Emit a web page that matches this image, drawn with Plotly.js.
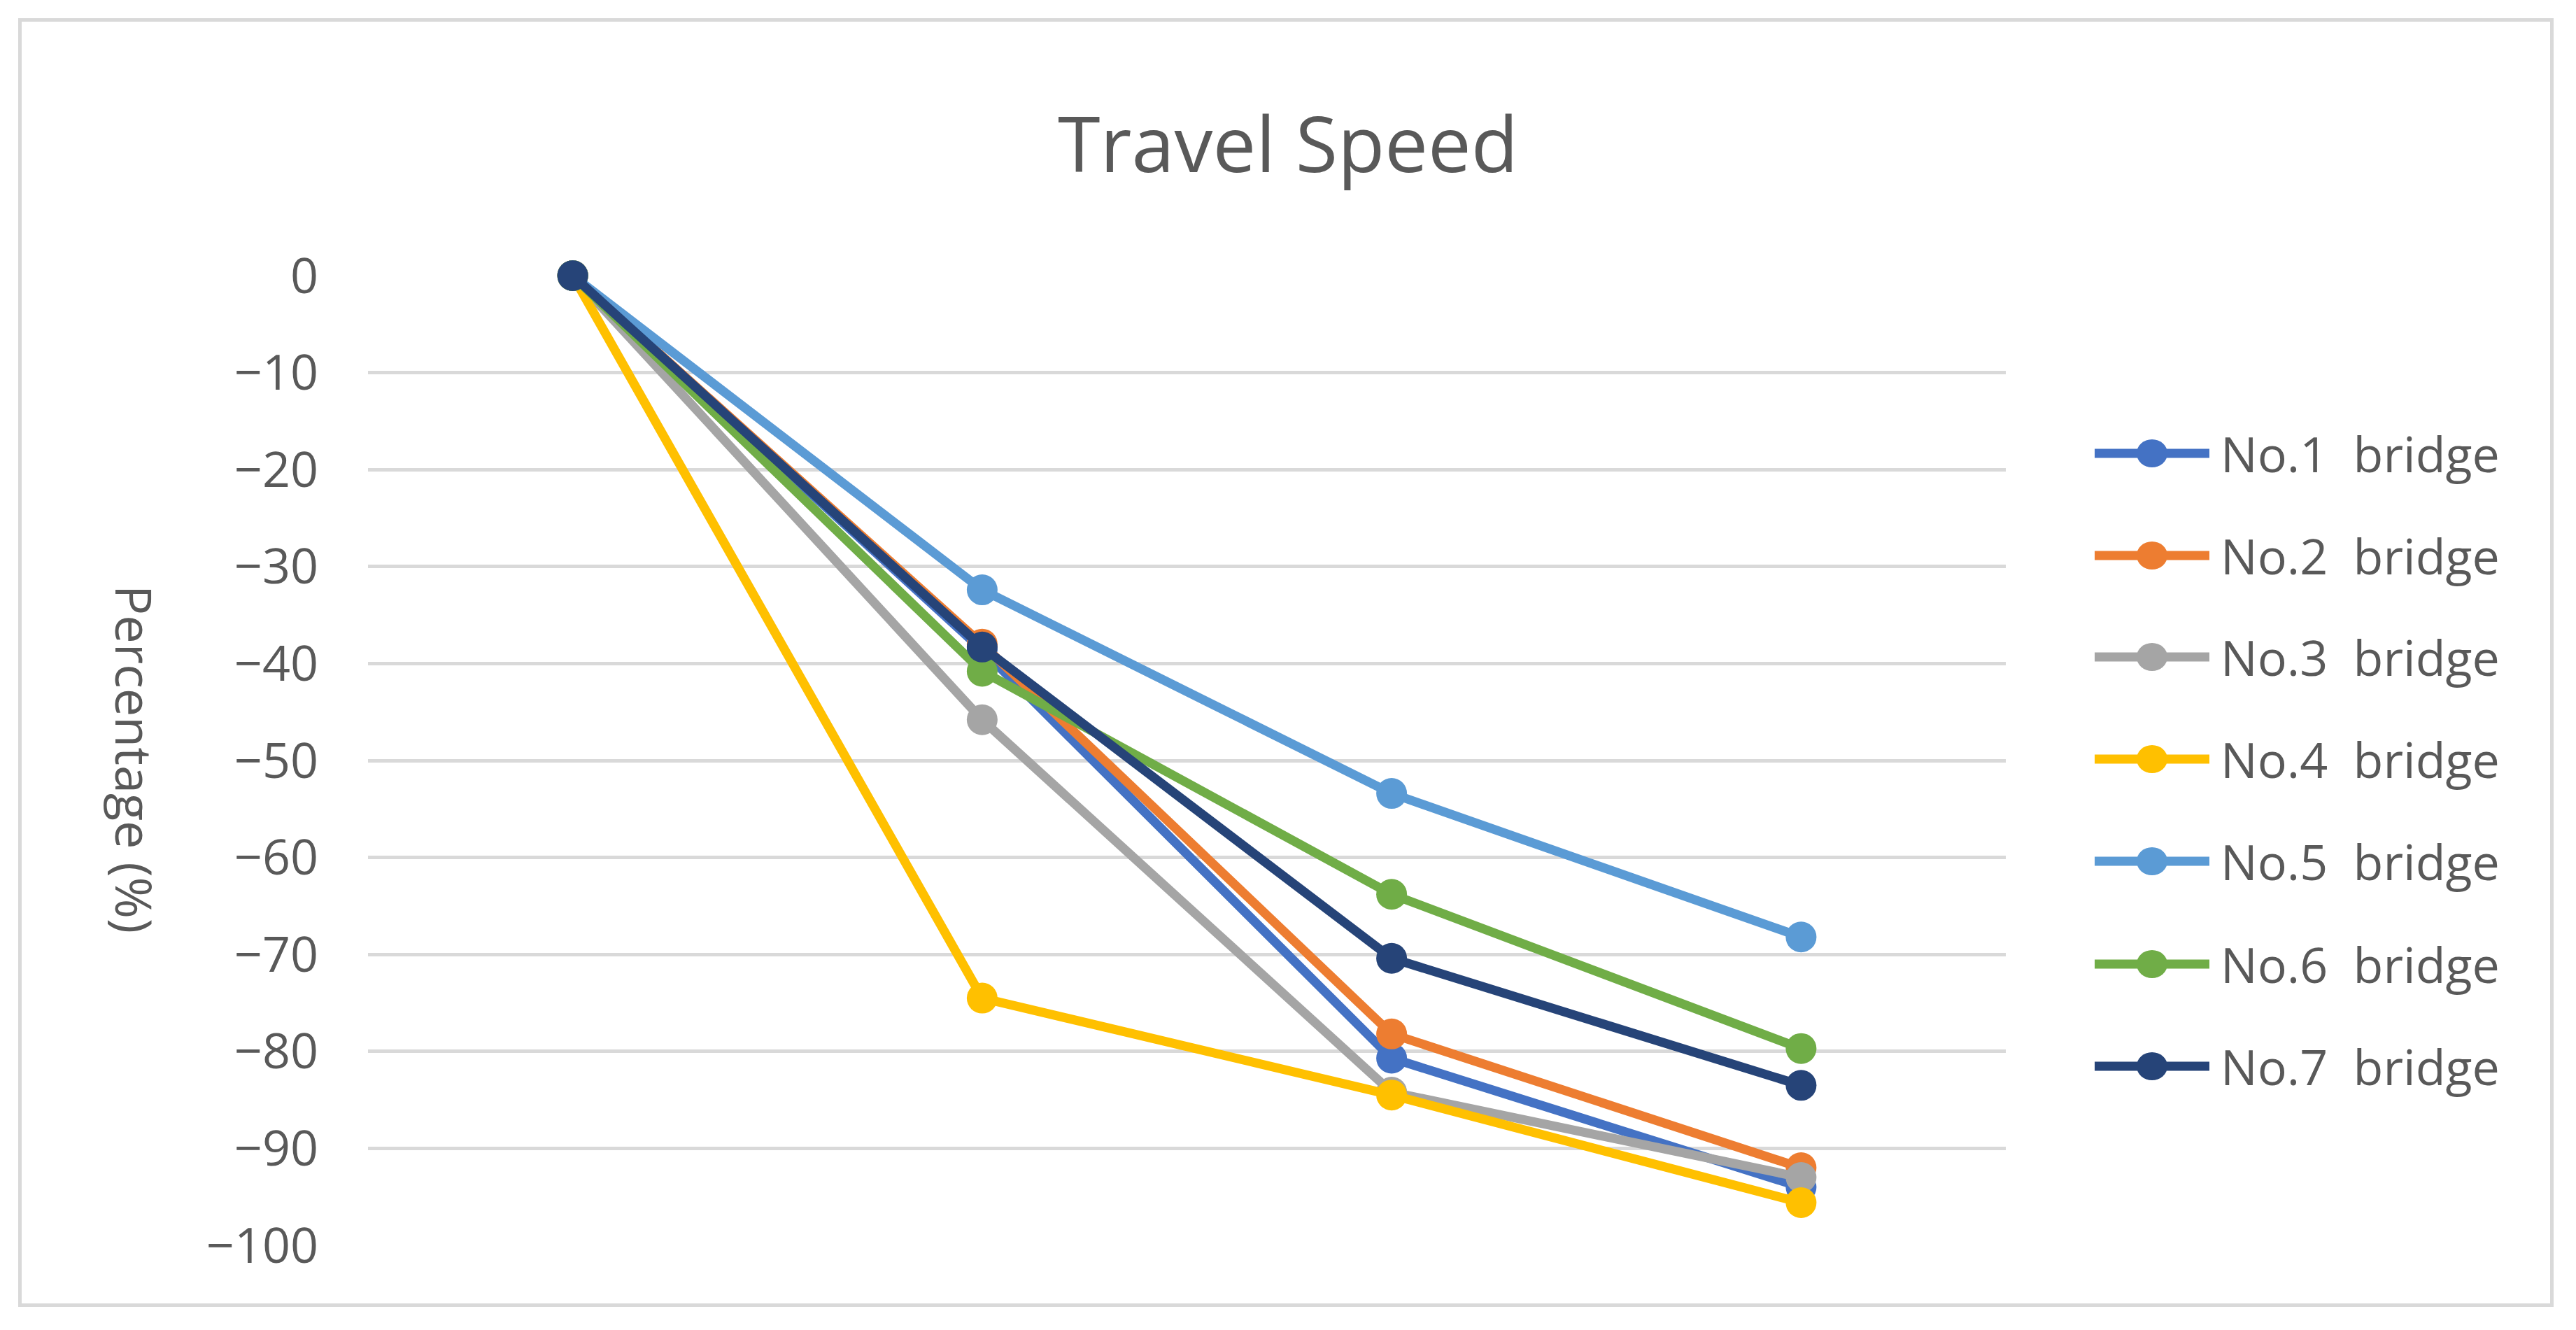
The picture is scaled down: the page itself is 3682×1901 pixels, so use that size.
<!DOCTYPE html>
<html>
<head>
<meta charset="utf-8">
<script src="https://cdn.plot.ly/plotly-3.0.1.min.js"></script>
<style>
  html, body { margin: 0; padding: 0; background: #fff; }
  #frame {
    position: absolute; left: 26px; top: 26px;
    width: 3624px; height: 1842px;
    border: 5px solid #d9d9d9; box-sizing: border-box;
  }
  #chart { position: absolute; left: 0; top: 0; width: 3682px; height: 1901px; }
</style>
</head>
<body>
<div id="frame"></div>
<div id="chart"></div>
<script>
// x positions (stages), no labels shown on the original
var stages = [1, 2, 3, 4];

var bridgeNames = ['No.1  bridge', 'No.2  bridge', 'No.3  bridge', 'No.4  bridge',
                   'No.5  bridge', 'No.6  bridge', 'No.7  bridge'];

// percentage change in travel speed
var bridge1 = [0, -38.6, -80.7, -94.0];
var bridge2 = [0, -38.0, -78.2, -92.0];
var bridge3 = [0, -45.8, -84.2, -93.0];
var bridge4 = [0, -74.5, -84.5, -95.6];
var bridge5 = [0, -32.4, -53.4, -68.2];
var bridge6 = [0, -40.8, -63.8, -79.7];
var bridge7 = [0, -38.3, -70.4, -83.5];

var colors = ['#4472c4', '#ed7d31', '#a5a5a5', '#ffc000', '#5b9bd5', '#70ad47', '#264478'];

var series = [bridge1, bridge2, bridge3, bridge4, bridge5, bridge6, bridge7];

var W = 3682, H = 1901;
var M = { l: 526, r: 815, t: 394, b: 121 };
var pw = W - M.l - M.r, ph = H - M.t - M.b;
// page pixels -> paper coords
function px(x) { return (x - M.l) / pw; }
function py(y) { return 1 - (y - M.t) / ph; }

var traces = series.map(function (vals, i) {
    return {
        x: stages,
        y: vals,
        name: bridgeNames[i],
        type: 'scatter',
        mode: 'lines+markers',
        cliponaxis: false,
        showlegend: false,
        line: { color: colors[i], width: 13 },
        marker: { color: colors[i], size: 44 }
    };
});

var txt = '#595959';

// legend built by hand so the sample line and marker keep the big Excel size
var shapes = [];
var annotations = [];
var rowY = [648, 794, 939, 1085, 1231, 1378, 1524];
bridgeNames.forEach(function (nm, i) {
    shapes.push({
        type: 'line', xref: 'paper', yref: 'paper',
        x0: px(2994), x1: px(3158), y0: py(rowY[i]), y1: py(rowY[i]),
        line: { color: colors[i], width: 13 }
    });
    shapes.push({
        type: 'circle', xref: 'paper', yref: 'paper',
        xsizemode: 'pixel', ysizemode: 'pixel',
        xanchor: px(3076), yanchor: py(rowY[i]),
        x0: -22, x1: 22, y0: -20, y1: 20,
        fillcolor: colors[i], line: { width: 0 }
    });
    annotations.push({
        xref: 'paper', yref: 'paper',
        x: px(3172), y: py(rowY[i]),
        xanchor: 'left', yanchor: 'middle',
        text: nm, showarrow: false,
        font: { size: 70, color: txt }
    });
});

annotations.push({
    xref: 'paper', yref: 'paper',
    x: px(193), y: py(1085),
    xanchor: 'center', yanchor: 'middle',
    text: 'Percentage (%)', textangle: 90, showarrow: false,
    font: { size: 72, color: txt }
});

var layout = {
    width: W,
    height: H,
    margin: M,
    paper_bgcolor: 'rgba(0,0,0,0)',
    plot_bgcolor: 'rgba(0,0,0,0)',
    font: { family: 'Open Sans, sans-serif', color: txt },
    title: {
        text: 'Travel Speed',
        font: { size: 110, color: txt },
        x: 0.5, xref: 'container', xanchor: 'center',
        y: 1 - 207 / H, yref: 'container', yanchor: 'middle'
    },
    xaxis: {
        range: [0.5, 4.5],
        showticklabels: false,
        showgrid: false,
        zeroline: false,
        showline: false,
        ticks: ''
    },
    yaxis: {
        range: [-100, 0],
        dtick: 10,
        tick0: 0,
        gridcolor: '#d9d9d9',
        gridwidth: 5,
        zeroline: false,
        showline: false,
        ticks: '',
        ticklabelstandoff: 70,
        tickfont: { size: 70, color: txt }
    },
    showlegend: false,
    shapes: shapes,
    annotations: annotations
};

Plotly.newPlot('chart', traces, layout, { staticPlot: true });
</script>
</body>
</html>
